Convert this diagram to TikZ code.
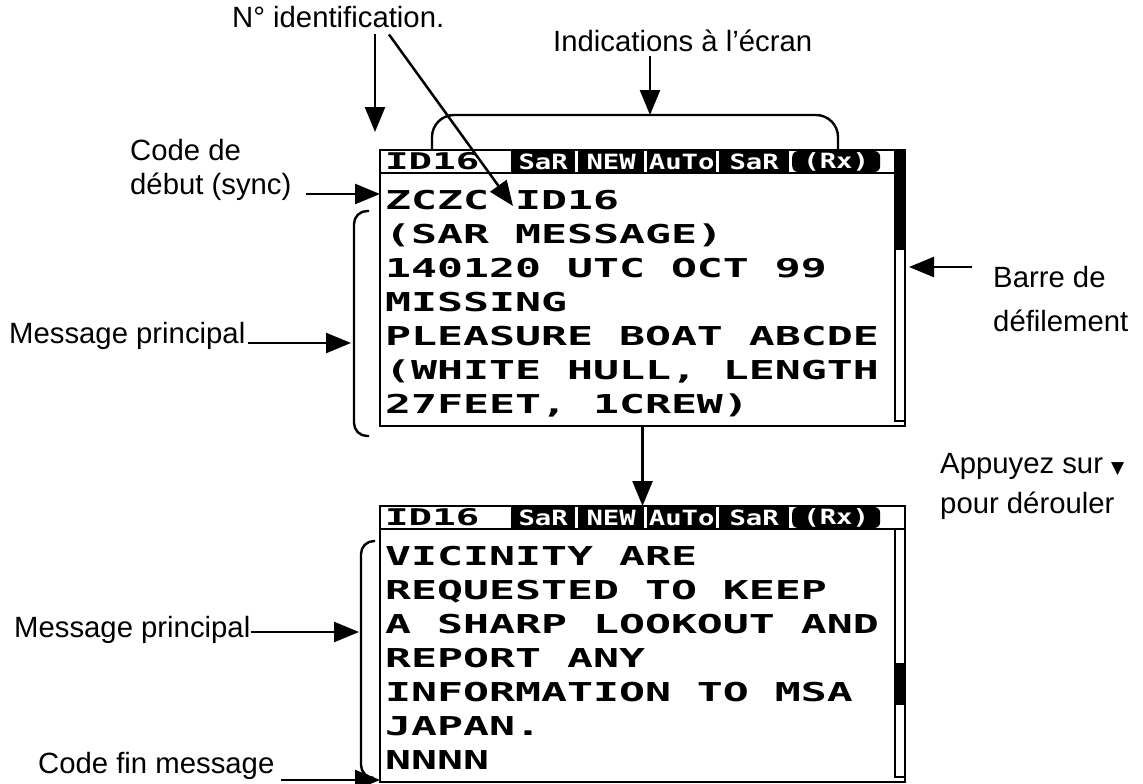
\documentclass[tikz,border=0pt]{standalone}
\usepackage{fontspec}
\usepackage{graphicx}
\setmainfont{Liberation Sans}
\newfontfamily\lcdfont{DejaVu Sans Mono}
\newfontfamily\symfont{DejaVu Sans}
\usetikzlibrary{arrows.meta}
\newcommand{\lcd}[1]{\scalebox{1.66}[1]{#1}}
\newcommand{\hdrid}[1]{\scalebox{1.7}[1]{#1}}
\newcommand{\celltxt}[1]{\scalebox{1.3}[1]{#1}}
\begin{document}
\begin{tikzpicture}[x=1pt,y=-1pt,
  lbl/.style={font=\fontsize{29.3}{34}\selectfont, inner sep=0pt, anchor=base west},
  lcdline/.style={font=\lcdfont\bfseries\fontsize{26}{26}\selectfont, inner sep=0pt, anchor=base west},
  hid/.style={font=\lcdfont\bfseries\fontsize{23}{23}\selectfont, inner sep=0pt, anchor=base west},
  cell/.style={fill=black, text=white, font=\lcdfont\bfseries\fontsize{21}{21}\selectfont, inner sep=0pt, minimum height=21pt, anchor=west},
  screen/.style={draw, line width=2.5pt, minimum width=525pt, minimum height=276pt, anchor=north west, inner sep=0pt, outer sep=0pt},
  arr/.style={line width=2.5pt, -{Triangle[length=25pt,width=20pt]}},
  ln/.style={line width=2.4pt}
]
\useasboundingbox (0,0) rectangle (1143,784);

% ---------- top screen ----------
\node[screen] (scr1) at (380,150) {};
\draw[line width=2pt] (380,173) -- (905,173);
\node[hid] (h1id) at (385,169) {\hdrid{ID16}};
\node[cell, minimum width=64pt] (h1c1) at (511,161.5) {\celltxt{SaR}};
\node[cell, minimum width=66pt] (h1c2) at (578,161.5) {\celltxt{NEW}};
\node[cell, minimum width=69pt] (h1c3) at (647,161.5) {\celltxt{AuTo}};
\node[cell, minimum width=70pt] (h1c4) at (719,161.5) {\celltxt{SaR}};
\node[cell, minimum width=88pt, rounded corners=6pt] (h1c5) at (792,161.5) {\celltxt{(Rx)}};
\fill (894,150) rectangle (905,250);
\draw[line width=2pt] (895,173) rectangle (905,421);

\node[lcdline] (t1) at (385,209.5) {\lcd{ZCZC ID16}};
\node[lcdline] (t2) at (385,243.5) {\lcd{(SAR MESSAGE)}};
\node[lcdline] (t3) at (385,277.5) {\lcd{140120 UTC OCT 99}};
\node[lcdline] (t4) at (385,311.5) {\lcd{MISSING}};
\node[lcdline] (t5) at (385,345.5) {\lcd{PLEASURE BOAT ABCDE}};
\node[lcdline] (t6) at (385,379.5) {\lcd{(WHITE HULL, LENGTH}};
\node[lcdline] (t7) at (385,413.5) {\lcd{27FEET, 1CREW)}};

% ---------- bottom screen ----------
\node[screen] (scr2) at (380,506) {};
\draw[line width=2pt] (380,529) -- (905,529);
\node[hid] (h2id) at (385,525) {\hdrid{ID16}};
\node[cell, minimum width=64pt] (h2c1) at (511,517.5) {\celltxt{SaR}};
\node[cell, minimum width=66pt] (h2c2) at (578,517.5) {\celltxt{NEW}};
\node[cell, minimum width=69pt] (h2c3) at (647,517.5) {\celltxt{AuTo}};
\node[cell, minimum width=70pt] (h2c4) at (719,517.5) {\celltxt{SaR}};
\node[cell, minimum width=88pt, rounded corners=6pt] (h2c5) at (792,517.5) {\celltxt{(Rx)}};
\draw[line width=2pt] (895,529) rectangle (905,777);
\fill (894,663) rectangle (905,705);

\node[lcdline] (b1) at (385,565.5) {\lcd{VICINITY ARE}};
\node[lcdline] (b2) at (385,599.5) {\lcd{REQUESTED TO KEEP}};
\node[lcdline] (b3) at (385,633.5) {\lcd{A SHARP LOOKOUT AND}};
\node[lcdline] (b4) at (385,667.5) {\lcd{REPORT ANY}};
\node[lcdline] (b5) at (385,701.5) {\lcd{INFORMATION TO MSA}};
\node[lcdline] (b6) at (385,735.5) {\lcd{JAPAN.}};
\node[lcdline] (b7) at (385,769.5) {\lcd{NNNN}};

% ---------- labels ----------
\node[lbl] (nid) at (232,28) {N° identification.};
\node[lbl] (ind) at (553,52) {Indications à l'écran};
\node[lbl] (code1) at (130,160) {Code de};
\node[lbl] (code2) at (130,194) {début (sync)};
\node[lbl] (mp1) at (9,343) {Message principal};
\node[lbl] (barre1) at (993,287) {Barre de};
\node[lbl] (barre2) at (993,331) {défilement};
\node[lbl] (app) at (940,473) {Appuyez sur {\symfont\fontsize{17}{17}\selectfont ▼}};
\node[lbl] (pour) at (940,513) {pour dérouler};
\node[lbl] (mp2) at (14,637) {Message principal};
\node[lbl] (cf) at (38,773) {Code fin message};

% ---------- coordinates ----------
\coordinate (nidv) at (375,132);
\coordinate (nids) at (389,0);
\coordinate (idtip) at (513,206);
\coordinate (indtip) at (650,115);
\coordinate (br1) at (351,343);
\coordinate (br2) at (359,632);
\coordinate (sbar) at (909,267);

% ---------- connectors ----------
\draw[arr] ([yshift=-6pt]nid.south -| nidv) -- (nidv);
\draw[arr] ([yshift=-6pt]nid.south -| nids) -- (idtip);
\draw[arr] ([yshift=-4pt]ind.south -| indtip) -- (indtip);
\draw[ln, rounded corners=22pt] (432,150) -- (432,115) -- (838,115) -- (838,150);
\draw[arr] ([xshift=14pt]code2.base east) -- (code2.base east -| scr1.west);
\draw[ln, rounded corners=13pt] (369,211) -- (354,211) -- (354,436) -- (369,436);
\draw[arr] ([xshift=2pt]mp1.base east) -- (br1);
\draw[arr] ([xshift=-21pt,yshift=20pt]barre1.base west) -- (sbar);
\draw[arr] (scr1.south) -- (scr2.north);
\draw[ln, rounded corners=13pt] (375,541) -- (361,541) -- (361,778) -- (374,778);
\draw[arr] ([yshift=5pt]mp2.base east) -- (br2);
\draw[arr] ([xshift=6pt,yshift=-7pt]cf.base east) -- ([yshift=-7pt]cf.base east -| scr2.west);
\end{tikzpicture}
\end{document}
